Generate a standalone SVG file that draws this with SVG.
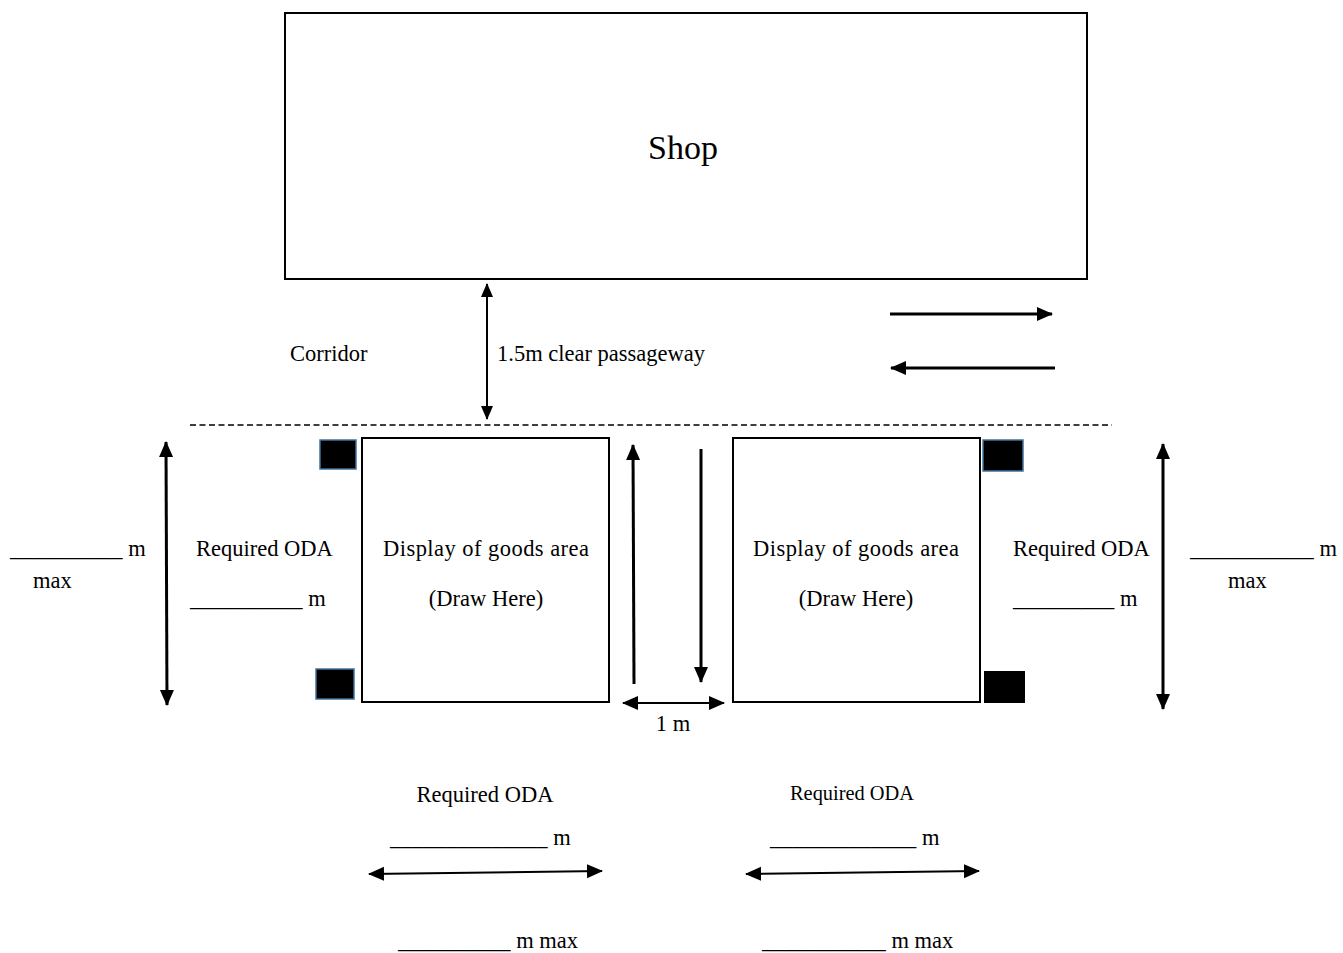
<svg xmlns="http://www.w3.org/2000/svg" width="1343" height="953" viewBox="0 0 1343 953">
<style>
text{font-family:"Liberation Serif","Times New Roman",serif;font-size:22.5px;fill:#000}
.box{fill:#fff;stroke:#000;stroke-width:2}
.post{fill:#000;stroke:#41719c;stroke-width:1.5}
.a3{stroke:#000;stroke-width:3;fill:none}
.a2{stroke:#000;stroke-width:2;fill:none}
</style>
<defs>
<marker id="h" markerUnits="userSpaceOnUse" markerWidth="16" markerHeight="16" refX="15" refY="8" orient="auto-start-reverse" viewBox="0 0 16 16"><path d="M0,1 L16,8 L0,15 z" fill="#000"/></marker>
<marker id="hs" markerUnits="userSpaceOnUse" markerWidth="14" markerHeight="14" refX="13" refY="7" orient="auto-start-reverse" viewBox="0 0 14 14"><path d="M0,1 L14,7 L0,13 z" fill="#000"/></marker>
</defs>
<rect width="1343" height="953" fill="#fff"/>
<g id="shop"><rect class="box" x="285" y="13" width="802" height="266"/><text x="683" y="159" text-anchor="middle" style="font-size:34px">Shop</text></g>
<g id="corridor"><line x1="190" y1="425" x2="1112" y2="425" stroke="#000" stroke-width="1.5" stroke-dasharray="6,3.5"/><text x="290" y="361">Corridor</text><text x="497" y="361">1.5m clear passageway</text></g>
<g id="display-left"><rect class="box" x="362" y="438" width="247" height="264"/><text x="486" y="556" text-anchor="middle" textLength="206">Display of goods area</text><text x="486" y="606" text-anchor="middle">(Draw Here)</text></g>
<g id="display-right"><rect class="box" x="733" y="438" width="247" height="264"/><text x="856" y="556" text-anchor="middle" textLength="206">Display of goods area</text><text x="856" y="606" text-anchor="middle">(Draw Here)</text></g>
<g id="posts"><rect class="post" x="320" y="440" width="36" height="29"/><rect class="post" x="316" y="669" width="38" height="30"/><rect class="post" x="983" y="440" width="40" height="31"/><rect x="984" y="671" width="41" height="32" fill="#000"/></g>
<g id="labels-left"><text x="10" y="556">__________ m</text><text x="33" y="588">max</text><text x="196" y="556">Required ODA</text><text x="190" y="606">__________ m</text></g>
<g id="labels-right"><text x="1013" y="556">Required ODA</text><text x="1013" y="606">_________ m</text><text x="1190" y="556">___________ m</text><text x="1228" y="588">max</text></g>
<g id="labels-bottom"><text x="485" y="802" text-anchor="middle">Required ODA</text><text x="390" y="845">______________ m</text><text x="398" y="948">__________ m max</text><text x="852" y="800" text-anchor="middle" style="font-size:20.4px">Required ODA</text><text x="770" y="845">_____________ m</text><text x="762" y="948">___________ m max</text><text x="673" y="731" text-anchor="middle">1 m</text></g>
<g id="connectors">
<line class="a2" x1="487" y1="284" x2="487" y2="419" marker-start="url(#hs)" marker-end="url(#hs)"/>
<line class="a3" x1="890" y1="314" x2="1052" y2="314" marker-end="url(#h)"/>
<line class="a3" x1="1055" y1="368" x2="891" y2="368" marker-end="url(#h)"/>
<line class="a3" x1="166" y1="442" x2="167" y2="705" marker-start="url(#h)" marker-end="url(#h)"/>
<line class="a3" x1="1163" y1="444" x2="1163" y2="709" marker-start="url(#h)" marker-end="url(#h)"/>
<line class="a3" x1="634" y1="684" x2="633" y2="445" marker-end="url(#h)"/>
<line class="a3" x1="701" y1="449" x2="701" y2="682" marker-end="url(#h)"/>
<line class="a2" x1="623" y1="703" x2="724" y2="703" marker-start="url(#h)" marker-end="url(#h)"/>
<line class="a2" x1="369" y1="874" x2="602" y2="871" marker-start="url(#h)" marker-end="url(#h)"/>
<line class="a2" x1="746" y1="874" x2="979" y2="871" marker-start="url(#h)" marker-end="url(#h)"/>
</g>
</svg>
